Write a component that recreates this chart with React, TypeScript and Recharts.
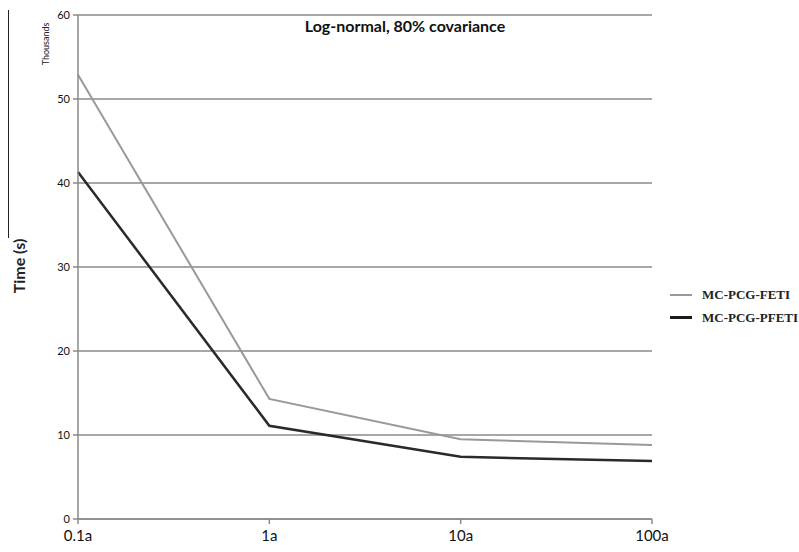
import { LineChart, Line, XAxis, YAxis, CartesianGrid } from "recharts"

const categories = ["0.1a", "1a", "10a", "100a"]
const fetiValues = [52.9, 14.3, 9.5, 8.8]
const pfetiValues = [41.3, 11.1, 7.4, 6.9]
const yTicks = [0, 10, 20, 30, 40, 50, 60]

const data = categories.map((c, i) => ({
  cat: c,
  feti: fetiValues[i],
  pfeti: pfetiValues[i],
}))

const font = "Lato, 'Open Sans', sans-serif"

function LegendBox() {
  const items = [
    { label: "MC-PCG-FETI", color: "#999999", w: 2 },
    { label: "MC-PCG-PFETI", color: "#1a1a1a", w: 3 },
  ]
  return (
    <div style={{ fontFamily: "'Liberation Serif', serif", fontWeight: "bold", fontSize: 13 }}>
      {items.map((it) => (
        <div key={it.label} style={{ display: "flex", alignItems: "center", height: 23 }}>
          <span style={{ display: "inline-block", width: 22, height: it.w, background: it.color, marginRight: 10 }} />
          <span style={{ color: "#222" }}>{it.label}</span>
        </div>
      ))}
    </div>
  )
}

export default function App() {
  return (
    <div style={{ position: "absolute", left: 0, top: 0, width: 799, height: 552, background: "#fff" }}>
      <div style={{ position: "absolute", left: 8, top: 10, width: 1, height: 228, background: "#222" }} />
      <div
        style={{
          position: "absolute",
          left: 18,
          top: 266,
          transform: "translate(-50%, -50%) rotate(-90deg)",
          fontFamily: font,
          fontWeight: "bold",
          fontSize: 16,
          whiteSpace: "nowrap",
          color: "#222",
        }}
      >
        Time (s)
      </div>
      <div
        style={{
          position: "absolute",
          left: 45,
          top: 44,
          transform: "translate(-50%, -50%) rotate(-90deg)",
          fontFamily: font,
          fontSize: 9,
          whiteSpace: "nowrap",
          color: "#222",
        }}
      >
        Thousands
      </div>
      <div
        style={{
          position: "absolute",
          left: 405,
          top: 25,
          transform: "translate(-50%, -50%)",
          fontFamily: font,
          fontWeight: "bold",
          fontSize: 16,
          whiteSpace: "nowrap",
          color: "#111",
        }}
      >
        Log-normal, 80% covariance
      </div>
      <div style={{ position: "absolute", left: 670, top: 283 }}>
        <LegendBox />
      </div>
      <LineChart width={799} height={552} data={data} margin={{ top: 15, right: 147, bottom: 0, left: 48 }}>
        <CartesianGrid vertical={false} stroke="#8a8a8a" strokeWidth={1.5} />
        <XAxis
          dataKey="cat"
          stroke="#8a8a8a"
          strokeWidth={1.5}
          tickSize={5}
          tick={{ fill: "#111", fontSize: 15, fontFamily: font }}
          tickMargin={6}
          height={33}
        />
        <YAxis
          domain={[0, 60]}
          ticks={yTicks}
          width={30}
          stroke="#8a8a8a"
          strokeWidth={1.5}
          tickSize={5}
          tick={{ fill: "#111", fontSize: 11, fontFamily: font }}
          tickMargin={3}
        />
        <Line type="linear" dataKey="feti" stroke="#999999" strokeWidth={2} dot={false} isAnimationActive={false} />
        <Line type="linear" dataKey="pfeti" stroke="#2a2a2a" strokeWidth={2.5} dot={false} isAnimationActive={false} />
      </LineChart>
    </div>
  )
}
